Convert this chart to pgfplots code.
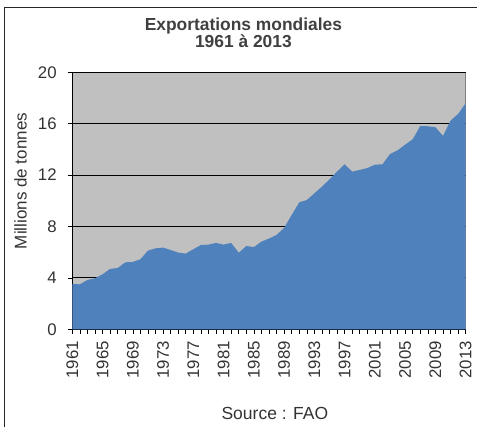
\documentclass[border=0pt]{standalone}
\usepackage{pgfplots}
\pgfplotsset{compat=1.18}
\usepackage{pgfplotstable}
\usepackage{fontspec}
\setmainfont{Liberation Sans}
\definecolor{bgray}{HTML}{C0C0C0}
\definecolor{eblue}{HTML}{4F81BD}
\definecolor{txt}{HTML}{333333}
\definecolor{ttl}{HTML}{404040}
\pgfplotstableread{
year value
1961 3.53
1962 3.50
1963 3.84
1964 3.97
1965 4.28
1966 4.70
1967 4.77
1968 5.21
1969 5.24
1970 5.45
1971 6.12
1972 6.30
1973 6.36
1974 6.17
1975 5.97
1976 5.89
1977 6.23
1978 6.56
1979 6.59
1980 6.72
1981 6.59
1982 6.72
1983 5.96
1984 6.48
1985 6.40
1986 6.82
1987 7.06
1988 7.34
1989 7.89
1990 8.90
1991 9.88
1992 10.06
1993 10.58
1994 11.10
1995 11.67
1996 12.27
1997 12.84
1998 12.27
1999 12.40
2000 12.55
2001 12.81
2002 12.84
2003 13.64
2004 13.93
2005 14.37
2006 14.79
2007 15.82
2008 15.80
2009 15.72
2010 15.05
2011 16.24
2012 16.76
2013 17.59
}\datatable
\begin{document}
\begin{tikzpicture}
\begin{axis}[
  at={(72.3pt,97.7pt)}, anchor=south west,
  scale only axis, width=393.4pt, height=257pt,
  xmin=1961, xmax=2013, ymin=0, ymax=20,
  axis lines=left,
  axis line style={-, black, line width=0.8pt},
  axis background/.style={fill=bgray, draw=black!50, line width=0.8pt},
  ymajorgrids,
  grid style={black, line width=0.8pt},
  ytick={0,4,...,20},
  xtick={1961,1965,...,2013},
  minor x tick num=3,
  tick align=outside,
  major tick length=4.5pt, minor tick length=4.5pt,
  tick style={black, line width=0.6pt},
  /pgf/number format/assume math mode=true,
  /pgf/number format/1000 sep={},
  tick label style={font=\fontsize{16.8}{18}\selectfont, color=txt, inner sep=0pt},
  yticklabel style={xshift=-11pt},
  xticklabel style={rotate=90, anchor=east, xshift=-7pt},
  title={Exportations mondiales\\1961 à 2013},
  title style={at={(0.435,1)}, anchor=south, yshift=18pt, inner sep=0pt,
    align=center, font=\fontsize{17.4}{17.6}\selectfont\bfseries, color=ttl},
  ylabel={Millions de tonnes},
  ylabel style={at={(0,0.577)}, anchor=base, yshift=45.6pt, inner sep=0pt,
    font=\fontsize{17}{18}\selectfont, color=txt},
  xlabel={Source : FAO},
  xlabel style={at={(0.515,0)}, anchor=base, yshift=-90.7pt, inner sep=0pt,
    font=\fontsize{17.5}{18}\selectfont, color=txt},
]
\addplot[fill=eblue, draw=none] table[x=year, y=value] {\datatable} \closedcycle;
\end{axis}
\draw[line width=1pt,color=black!85] (4.7pt,-5pt) -- (4.7pt,419.7pt) -- (485pt,419.7pt);
\pgfresetboundingbox
\useasboundingbox (0pt,0pt) rectangle (477pt,427pt);
\end{tikzpicture}
\end{document}
